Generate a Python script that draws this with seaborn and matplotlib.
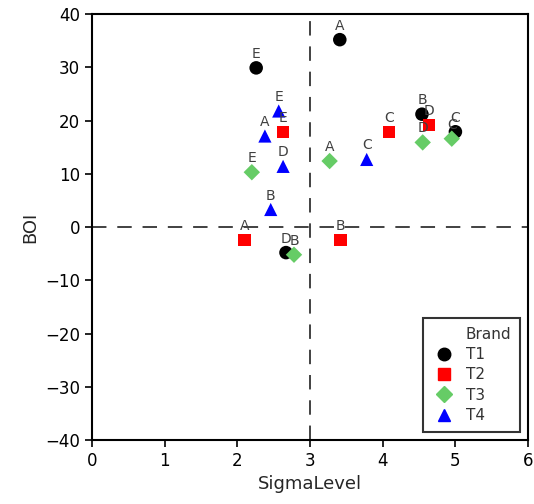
import pandas as pd
import numpy as np
import matplotlib
matplotlib.use('Agg')
import matplotlib.pyplot as plt
from matplotlib.lines import Line2D
import seaborn as sns

# values
brands = ['T1', 'T2', 'T3', 'T4']
labels = ['A', 'B', 'C', 'D', 'E']
t1_sigma = [3.41, 4.54, 5.00, 2.67, 2.26]
t1_boi = [35.2, 21.2, 17.9, -4.8, 29.9]
t2_sigma = [2.10, 3.42, 4.09, 4.64, 2.63]
t2_boi = [-2.4, -2.4, 17.9, 19.2, 17.9]
t3_sigma = [3.27, 2.78, 4.95, 4.55, 2.20]
t3_boi = [12.4, -5.2, 16.6, 15.9, 10.3]
t4_sigma = [2.38, 2.46, 3.78, 2.63, 2.57]
t4_boi = [17.1, 3.3, 12.7, 11.4, 21.8]

df = pd.DataFrame({
    'Brand': np.repeat(brands, len(labels)),
    'Label': labels * len(brands),
    'SigmaLevel': t1_sigma + t2_sigma + t3_sigma + t4_sigma,
    'BOI': t1_boi + t2_boi + t3_boi + t4_boi,
})

PALETTE = {'T1': 'black', 'T2': '#ff0000', 'T3': '#66cc66', 'T4': '#0000ff'}
MARKERS = {'T1': 'o', 'T2': 's', 'T3': 'D', 'T4': '^'}
SIZES = {'T1': 95, 'T2': 80, 'T3': 70, 'T4': 90}

sns.set_style('ticks')
plt.rcParams['font.family'] = ['DejaVu Sans']

fig = plt.figure(figsize = (5.34, 5.04), dpi = 100)
ax = fig.add_axes([0.172, 0.127, 0.817, 0.845])

ax.axhline(0, color = '#333333', lw = 1.3, dashes = (8, 6), zorder = 1)
ax.axvline(3, color = '#333333', lw = 1.3, dashes = (8, 6), zorder = 1)

for b in brands:
    sub = df[df['Brand'] == b]
    sns.scatterplot(data = sub, x = 'SigmaLevel', y = 'BOI', color = PALETTE[b], marker = MARKERS[b],
                    s = SIZES[b], edgecolor = 'none', label = b, ax = ax, zorder = 3, legend = False)

for _, r in df.iterrows():
    ax.annotate(r['Label'], (r['SigmaLevel'], r['BOI']), xytext = (0, 5), textcoords = 'offset points',
                ha = 'center', va = 'bottom', fontsize = 10, color = '#404040', zorder = 4)

ax.set_xlim(0, 6)
ax.set_ylim(-40, 40)
ax.set_xticks(range(0, 7))
ax.set_yticks(range(-40, 41, 10))
ax.tick_params(direction = 'out', length = 5, width = 1.2, labelsize = 12, colors = 'black')
for s in ax.spines.values():
    s.set_color('black')
    s.set_linewidth(1.5)
ax.set_xlabel('SigmaLevel', fontsize = 13)
ax.set_ylabel('BOI', fontsize = 13)

# legend: title sits in the text column, like the reference
handles = [Line2D([], [], linestyle = 'none', marker = None)]
handles += [Line2D([], [], linestyle = 'none', marker = MARKERS[b], color = PALETTE[b],
                   markersize = 9 if b != 'T3' else 8) for b in brands]
leg = ax.legend(handles, ['Brand'] + brands, loc = 'lower right', frameon = True, fancybox = False,
                fontsize = 11, borderaxespad = 0.5, handletextpad = 0.6, labelspacing = 0.35,
                borderpad = 0.6, handlelength = 1.6)
leg.get_frame().set_edgecolor('black')
leg.get_frame().set_linewidth(1.5)
for t in leg.get_texts():
    t.set_color('#333333')

fig.savefig('out.png', dpi = 100)
